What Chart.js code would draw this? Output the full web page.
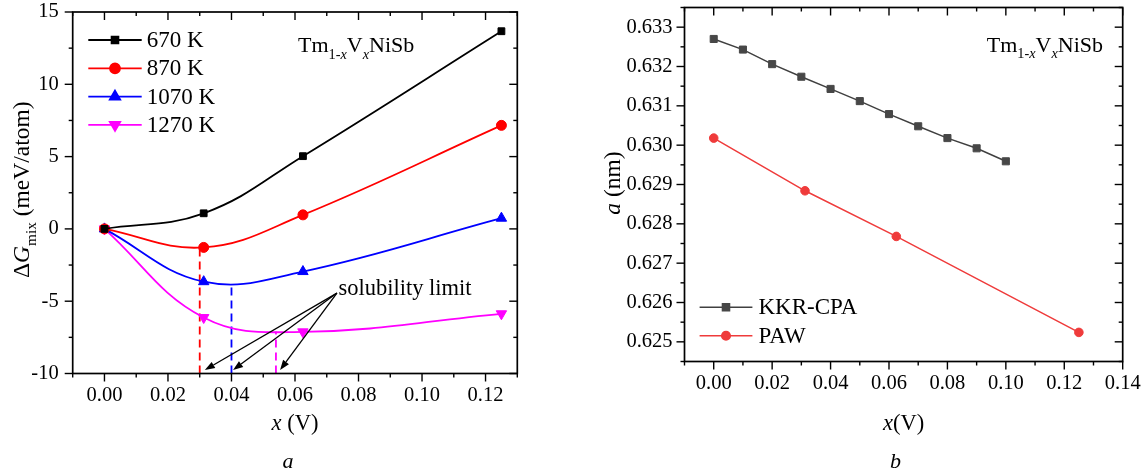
<!DOCTYPE html>
<html>
<head>
<meta charset="utf-8">
<script src="https://cdn.jsdelivr.net/npm/chart.js@4.4.1/dist/chart.umd.min.js"></script>
<style>
  html, body { margin: 0; padding: 0; background: #fff; }
  #wrap { position: relative; width: 1148px; height: 473px; }
  #wrap canvas { position: absolute; top: 0; }
</style>
</head>
<body>
<div id="wrap">
  <canvas id="panelA" width="574" height="473" style="left:0;width:574px;height:473px"></canvas>
  <canvas id="panelB" width="574" height="473" style="left:574px;width:574px;height:473px"></canvas>
</div>
<script>
// ---- Panel a: mixing free energy of Tm1-xVxNiSb at four temperatures ----
const xA = [0, 0.03125, 0.0625, 0.125];
const g670 = [0, 1.08, 5.03, 13.67];
const g870 = [0, -1.28, 0.97, 7.16];
const g1070 = [0, -3.65, -2.95, 0.74];
const g1270 = [0, -6.13, -7.12, -5.87];
const tempLabels = ['670 K', '870 K', '1070 K', '1270 K'];
// solubility limits and the curve value where each drop line stops
const limitX = [0.030, 0.040, 0.054];
const limitG = [-1.30, -3.87, -7.09];
const xTicksA = [0, 0.02, 0.04, 0.06, 0.08, 0.10, 0.12];
const yTicksA = [-10, -5, 0, 5, 10, 15];
// "solubility limit" callout: common tail and the three arrow tips (data units)
const calloutTail = [0.0732, -4.44];
const calloutTipsX = [0.0316, 0.0405, 0.0553];
const calloutTipY = -9.76;

// ---- Panel b: lattice constant ----
const xKKR = [0, 0.01, 0.02, 0.03, 0.04, 0.05, 0.06, 0.07, 0.08, 0.09, 0.10];
const aKKR = [0.63270, 0.63243, 0.63206, 0.63174, 0.63143, 0.63112, 0.63079, 0.63048, 0.63018, 0.62992, 0.62959];
const xPAW = [0, 0.03125, 0.0625, 0.125];
const aPAW = [0.63018, 0.62884, 0.62768, 0.62524];
const methodLabels = ['KKR-CPA', 'PAW'];
const xTicksB = [0, 0.02, 0.04, 0.06, 0.08, 0.10, 0.12, 0.14];
const yTicksB = [0.625, 0.626, 0.627, 0.628, 0.629, 0.630, 0.631, 0.632, 0.633];

const SERIF = '"Liberation Serif", "Times New Roman", Times, serif';
function fnt(size, italic) { return (italic ? 'italic ' : '') + size + 'px ' + SERIF; }

// text made of runs: {t, it (italic), sub (subscript)}
function runWidth(ctx, runs, size) {
  let w = 0;
  for (const r of runs) { ctx.font = fnt(r.sub ? size * 0.65 : size, r.it); w += ctx.measureText(r.t).width; }
  return w;
}
function drawRuns(ctx, runs, x, y, size, align) {
  const w = runWidth(ctx, runs, size);
  let cx = align === 'center' ? x - w / 2 : x;
  ctx.textAlign = 'left';
  ctx.textBaseline = 'alphabetic';
  ctx.fillStyle = '#000';
  for (const r of runs) {
    ctx.font = fnt(r.sub ? size * 0.65 : size, r.it);
    ctx.fillText(r.t, cx, y + (r.sub ? size * 0.3 : 0));
    cx += ctx.measureText(r.t).width;
  }
}
const compound = [{t: 'Tm'}, {t: '1-', sub: true}, {t: 'x', sub: true, it: true}, {t: 'V'}, {t: 'x', sub: true, it: true}, {t: 'NiSb'}];

function tickList(min, max, step, majors) {
  const out = [];
  const n = Math.round((max - min) / step);
  for (let i = 0; i <= n; i++) {
    const v = Math.round((min + i * step) * 1e7) / 1e7;
    out.push({v, major: majors.some(m => Math.abs(m - v) < 1e-9)});
  }
  return out;
}

// frame with outward ticks on bottom/left and inward ticks on top/right
const framePlugin = {
  id: 'frame',
  afterDraw(chart, args, o) {
    const {ctx, chartArea: {left, right, top, bottom}, scales: {x, y}} = chart;
    ctx.save();
    ctx.strokeStyle = '#000';
    ctx.lineCap = 'butt';
    ctx.lineWidth = 1.4;
    const seg = (x1, y1, x2, y2) => { ctx.beginPath(); ctx.moveTo(x1, y1); ctx.lineTo(x2, y2); ctx.stroke(); };
    tickList(x.min, x.max, o.xStep, o.xMajors).forEach(t => {
      const p = x.getPixelForValue(t.v), L = t.major ? 8 : 4;
      seg(p, bottom, p, bottom + L);
      seg(p, top, p, top + L);
    });
    tickList(y.min, y.max, o.yStep, o.yMajors).forEach(t => {
      const p = y.getPixelForValue(t.v), L = t.major ? 8 : 4;
      seg(left - L, p, left, p);
      seg(right - L, p, right, p);
    });
    ctx.lineWidth = 1.7;
    ctx.strokeRect(left, top, right - left, bottom - top);
    ctx.restore();
  }
};

// line + marker key drawn inside the plot
const keyPlugin = {
  id: 'key',
  afterDraw(chart, args, o) {
    const {ctx, chartArea: {left, top}} = chart;
    ctx.save();
    o.rows.forEach((ri, k) => {
      const ds = chart.data.datasets[ri];
      const yy = top + o.y0 + k * o.dy;
      ctx.strokeStyle = ds.borderColor;
      ctx.lineWidth = ds.borderWidth;
      ctx.beginPath(); ctx.moveTo(left + o.x0, yy); ctx.lineTo(left + o.x1, yy); ctx.stroke();
      ctx.fillStyle = ds.pointBackgroundColor;
      ctx.strokeStyle = ds.pointBorderColor;
      Chart.helpers.drawPoint(ctx, {pointStyle: ds.pointStyle, rotation: ds.pointRotation || 0, radius: ds.pointRadius, borderWidth: 1}, left + o.xm, yy);
      ctx.fillStyle = '#000';
      ctx.font = fnt(o.size);
      ctx.textAlign = 'left';
      ctx.textBaseline = 'middle';
      ctx.fillText(ds.label, left + o.xt, yy + 1);
    });
    ctx.restore();
  }
};

// axis titles, compound name and panel letter
const labelsPlugin = {
  id: 'labels',
  afterDraw(chart, args, o) {
    const {ctx, chartArea: {left, right, top, bottom}} = chart;
    const cx = (left + right) / 2;
    ctx.save();
    drawRuns(ctx, o.xTitle, cx, o.xTitleY, 22.5, 'center');
    ctx.save();
    ctx.translate(o.yTitleX, (top + bottom) / 2 + o.yTitleShift);
    ctx.rotate(-Math.PI / 2);
    drawRuns(ctx, o.yTitle, 0, 0, 23.5, 'center');
    ctx.restore();
    drawRuns(ctx, compound, o.nameX, o.nameY, 22, 'left');
    drawRuns(ctx, [{t: o.letter, it: true}], cx + o.letterShift, 468, 22, 'center');
    ctx.restore();
  }
};

const calloutPlugin = {
  id: 'callout',
  afterDatasetsDraw(chart, args, o) {
    if (!o.on) return;
    const {ctx, scales: {x, y}} = chart;
    const tx = x.getPixelForValue(calloutTail[0]), ty = y.getPixelForValue(calloutTail[1]);
    ctx.save();
    ctx.strokeStyle = '#000';
    ctx.fillStyle = '#000';
    ctx.lineWidth = 1.3;
    calloutTipsX.forEach(ax => {
      const hx = x.getPixelForValue(ax), hy = y.getPixelForValue(calloutTipY);
      const a = Math.atan2(hy - ty, hx - tx), L = 10, W = 3.6;
      const bx = hx - L * Math.cos(a), by = hy - L * Math.sin(a);
      ctx.beginPath(); ctx.moveTo(tx, ty); ctx.lineTo(bx, by); ctx.stroke();
      ctx.beginPath();
      ctx.moveTo(hx, hy);
      ctx.lineTo(bx + W * Math.sin(a), by - W * Math.cos(a));
      ctx.lineTo(bx - W * Math.sin(a), by + W * Math.cos(a));
      ctx.closePath(); ctx.fill();
    });
    ctx.font = fnt(22.5);
    ctx.textAlign = 'left';
    ctx.textBaseline = 'alphabetic';
    ctx.fillText('solubility limit', tx + 1.5, ty + 2);
    ctx.restore();
  }
};

// scale with fixed tick values; its size is pinned so the plot area lands where wanted
function axis(min, max, ticks, fmt, pad, size, vertical) {
  return {
    type: 'linear', min, max,
    afterBuildTicks: s => { s.ticks = ticks.map(v => ({value: v})); },
    afterFit: s => {
      if (vertical) s.width = size; else s.height = size;
      s.paddingTop = 0; s.paddingBottom = 0; s.paddingLeft = 0; s.paddingRight = 0;
    },
    grid: {display: false, drawTicks: false},
    border: {display: false},
    ticks: {callback: fmt, font: {family: SERIF, size: 20.5}, color: '#000', padding: pad, maxRotation: 0, autoSkip: false}
  };
}

// ---- chart a ----
const gSeries = [g670, g870, g1070, g1270];
const tColors = ['#000000', '#ff0000', '#0000ff', '#ff00ff'];
const tStyles = ['rect', 'circle', 'triangle', 'triangle'];
const tRot = [0, 0, 0, 180];
const tRad = [4.8, 5, 6, 6];
const dsA = tempLabels.map((lab, i) => ({
  label: lab,
  data: xA.map((xv, j) => ({x: xv, y: gSeries[i][j]})),
  borderColor: tColors[i], backgroundColor: tColors[i],
  pointBackgroundColor: tColors[i], pointBorderColor: tColors[i],
  pointStyle: tStyles[i], pointRotation: tRot[i], pointRadius: tRad[i], pointBorderWidth: 1,
  borderWidth: 1.8, tension: 0.4, order: 1
}));
const dropColors = ['#ff0000', '#0000ff', '#ff00ff'];
limitX.forEach((lx, i) => dsA.push({
  label: 'limit ' + tempLabels[i + 1],
  data: [{x: lx, y: -10}, {x: lx, y: limitG[i]}],
  borderColor: dropColors[i], borderDash: [8, 5], borderWidth: 1.8,
  pointRadius: 0, tension: 0, order: 2
}));

new Chart(document.getElementById('panelA'), {
  type: 'line',
  data: {datasets: dsA},
  options: {
    responsive: false, animation: false, devicePixelRatio: 1,
    layout: {padding: {top: 12, right: 56.7, left: 0, bottom: 0}},
    scales: {
      x: axis(-0.01, 0.13, xTicksA, v => v.toFixed(2), 10, 99.5, false),
      y: axis(-10, 15, yTicksA, v => String(v), 14, 72.7, true)
    },
    plugins: {
      legend: {display: false}, tooltip: {enabled: false},
      frame: {xStep: 0.01, xMajors: xTicksA, yStep: 2.5, yMajors: yTicksA},
      key: {rows: [0, 1, 2, 3], y0: 28, dy: 28.3, x0: 15.6, x1: 69, xm: 42.3, xt: 74, size: 23},
      labels: {
        xTitle: [{t: 'x', it: true}, {t: ' (V)'}], xTitleY: 430,
        yTitle: [{t: '\u0394'}, {t: 'G', it: true}, {t: 'mix', sub: true}, {t: ' (meV/atom)'}],
        yTitleX: 29, yTitleShift: -3,
        nameX: 298, nameY: 52, letter: 'a', letterShift: -7
      },
      callout: {on: true}
    }
  },
  plugins: [framePlugin, keyPlugin, labelsPlugin, calloutPlugin]
});

// ---- chart b ----
new Chart(document.getElementById('panelB'), {
  type: 'line',
  data: {
    datasets: [
      {
        label: methodLabels[0],
        data: xKKR.map((xv, j) => ({x: xv, y: aKKR[j]})),
        borderColor: '#404040', pointBackgroundColor: '#474747', pointBorderColor: '#474747',
        pointStyle: 'rect', pointRadius: 5, pointBorderWidth: 1, borderWidth: 1.5, tension: 0
      },
      {
        label: methodLabels[1],
        data: xPAW.map((xv, j) => ({x: xv, y: aPAW[j]})),
        borderColor: '#ef3b3b', pointBackgroundColor: '#ef3b3b', pointBorderColor: '#ef3b3b',
        pointStyle: 'circle', pointRadius: 4.3, pointBorderWidth: 1, borderWidth: 1.5, tension: 0
      }
    ]
  },
  options: {
    responsive: false, animation: false, devicePixelRatio: 1,
    layout: {padding: {top: 7.5, right: 25.3, left: 0, bottom: 0}},
    scales: {
      x: axis(-0.01, 0.14, xTicksB, v => v.toFixed(2), 10, 111.5, false),
      y: axis(0.6245, 0.6335, yTicksB, v => v.toFixed(3), 12, 110.5, true)
    },
    plugins: {
      legend: {display: false}, tooltip: {enabled: false},
      frame: {xStep: 0.01, xMajors: xTicksB, yStep: 0.0005, yMajors: yTicksB},
      key: {rows: [0, 1], y0: 299.8, dy: 28.4, x0: 15.1, x1: 67.9, xm: 41.5, xt: 74, size: 23},
      labels: {
        xTitle: [{t: 'x', it: true}, {t: '(V)'}], xTitleY: 430,
        yTitle: [{t: 'a', it: true}, {t: ' (nm)'}],
        yTitleX: 46, yTitleShift: -1.5,
        nameX: 412.7, nameY: 51.7, letter: 'b', letterShift: -8
      },
      callout: {on: false}
    }
  },
  plugins: [framePlugin, keyPlugin, labelsPlugin, calloutPlugin]
});
</script>
</body>
</html>
